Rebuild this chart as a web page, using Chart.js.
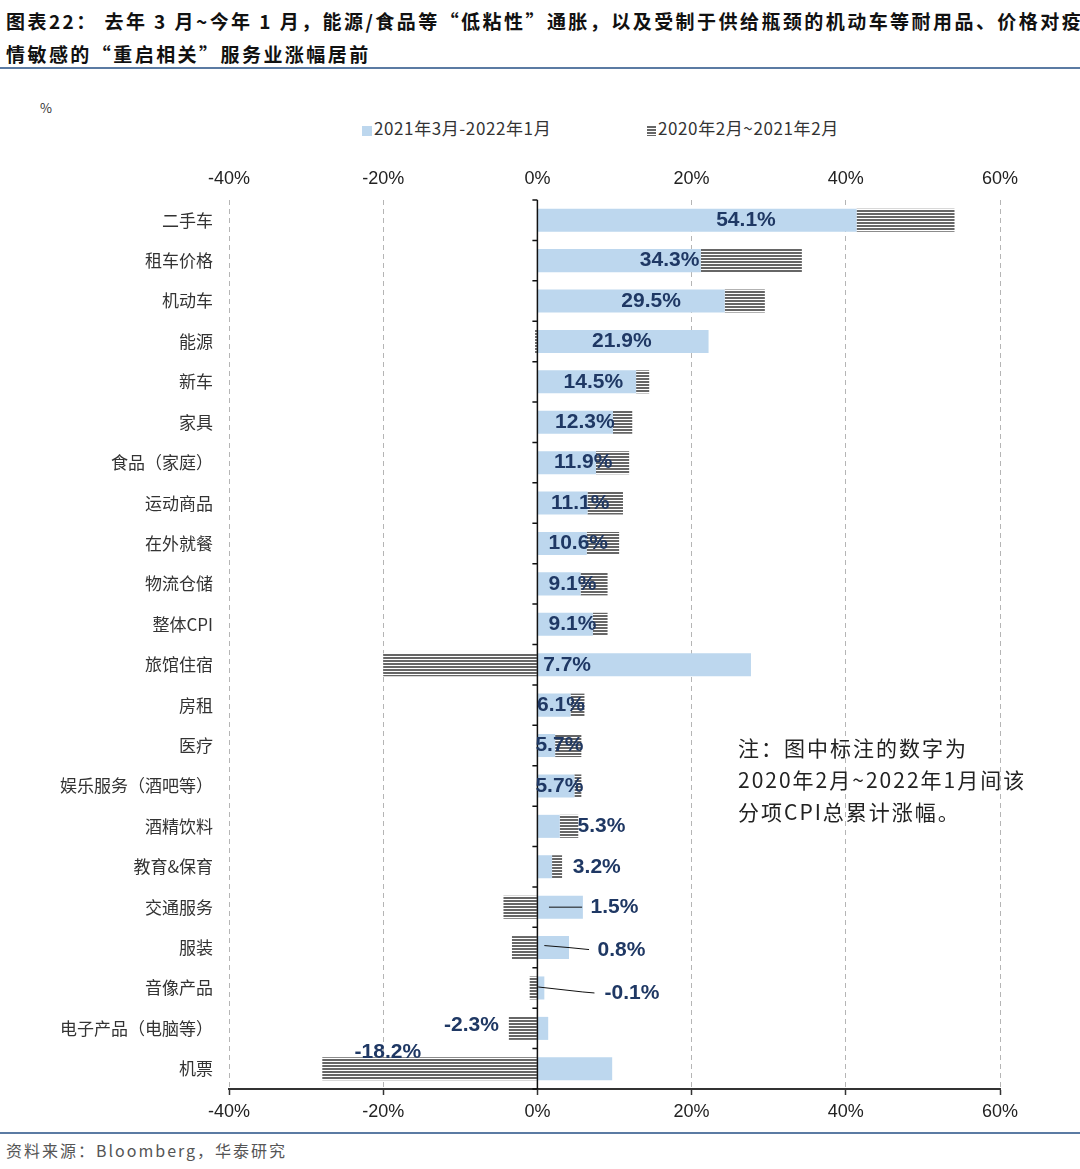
<!DOCTYPE html>
<html>
<head>
<meta charset="utf-8">
<script src="https://cdn.jsdelivr.net/npm/chart.js@4.4.1/dist/chart.umd.min.js"></script>
<style>
body{margin:0;width:1080px;height:1169px;position:relative;background:#fff;overflow:hidden;font-family:"Noto Sans CJK SC",sans-serif}
#title{position:absolute;left:6px;top:4px;font-size:19px;font-weight:700;line-height:33px;letter-spacing:2.45px;color:#111;white-space:nowrap}
.rule{position:absolute;left:0;width:1080px;height:2px;background:#5b7ba3}
#unit{position:absolute;left:40px;top:98px;font-size:13px;color:#333}
.lg{position:absolute;top:116px;font-size:17px;line-height:24px;letter-spacing:0.6px;color:#333;white-space:nowrap}
.lg i{display:inline-block;width:10px;height:10px;margin-right:2px;vertical-align:-1px}
#note{position:absolute;left:738px;top:731px;font-size:21px;line-height:32px;letter-spacing:2px;color:#222;white-space:nowrap}
#src{position:absolute;left:6px;top:1138px;font-size:16px;line-height:24px;letter-spacing:2px;color:#555}
#box{position:absolute;left:0;top:150px;width:1080px;height:975px}
</style>
</head>
<body>
<div id="title">图表22： 去年 3 月~今年 1 月，能源/食品等“低粘性”通胀，以及受制于供给瓶颈的机动车等耐用品、价格对疫<br>情敏感的“重启相关”服务业涨幅居前</div>
<div class="rule" style="top:67px"></div>
<div id="unit">%</div>
<div class="lg" style="left:362px"><i style="background:#bdd7ee"></i>2021年3月-2022年1月</div>
<div class="lg" style="left:647px"><i style="width:9px;background:repeating-linear-gradient(#666 0 2px,#fff 2px 3px)"></i>2020年2月~2021年2月</div>
<div id="box"><canvas id="cpiChart"></canvas></div>
<div id="note">注：图中标注的数字为<br>2020年2月~2022年1月间该<br>分项CPI总累计涨幅。</div>
<div class="rule" style="top:1132px"></div>
<div id="src">资料来源：Bloomberg，华泰研究</div>

<script>
// DATA

const categories = ['二手车','租车价格','机动车','能源','新车','家具','食品（家庭）','运动商品','在外就餐','物流仓储','整体CPI','旅馆住宿','房租','医疗','娱乐服务（酒吧等）','酒精饮料','教育&保育','交通服务','服装','音像产品','电子产品（电脑等）','机票'];
const recent = [41.4,21.2,24.3,22.2,12.8,9.8,7.6,6.5,6.4,5.6,7.2,27.7,4.3,2.3,4.8,2.9,1.9,5.9,4.1,0.9,1.4,9.7];
const earlier = [12.7,13.1,5.2,-0.3,1.7,2.5,4.3,4.6,4.2,3.5,1.9,-20.0,1.8,3.4,0.9,2.4,1.3,-4.4,-3.3,-1.0,-3.7,-27.9];
const totals = [54.1,34.3,29.5,21.9,14.5,12.3,11.9,11.1,10.6,9.1,9.1,7.7,6.1,5.7,5.7,5.3,3.2,1.5,0.8,-0.1,-2.3,-18.2];
const xTicks = [-40,-20,0,20,40,60];

// label placement for the crowded rows (x in % units, dy in px)
const labelSpots = {
    '酒精饮料': {x: 5.2, align: 'left'},
    '教育&保育': {x: 4.6, align: 'left'},
    '交通服务': {x: 6.9, align: 'left', leader: [[1.5,0],[5.8,0]]},
    '服装': {x: 7.8, align: 'left', dy: 3, leader: [[0.9,-2],[4.1,0],[6.7,2]]},
    '音像产品': {x: 8.7, align: 'left', dy: 5, leader: [[0.1,-1],[5.9,4],[7.4,5]]},
    '电子产品（电脑等）': {x: -5.0, align: 'right', dy: -3},
    '机票': {x: -19.4, align: 'center', dy: -17}
};

// horizontal stripe fill
function stripes() {
    const c = document.createElement('canvas');
    c.width = 4; c.height = 3;
    const g = c.getContext('2d');
    g.fillStyle = '#fff'; g.fillRect(0, 0, 4, 3);
    g.fillStyle = '#666'; g.fillRect(0, 0, 4, 2);
    return g.createPattern(c, 'repeat');
}

// zero axis with category tick marks
const zeroAxis = {
    id: 'zeroAxis',
    afterDatasetsDraw(chart) {
        const {ctx, chartArea: a, scales: {x}} = chart;
        const x0 = x.getPixelForValue(0);
        const step = (a.bottom - a.top) / categories.length;
        ctx.save();
        ctx.strokeStyle = '#111';
        ctx.lineWidth = 1.5;
        ctx.beginPath();
        ctx.moveTo(x0, a.top);
        ctx.lineTo(x0, a.bottom);
        for (let i = 0; i <= categories.length; i++) {
            const yy = a.top + i * step;
            ctx.moveTo(x0 - 5, yy);
            ctx.lineTo(x0, yy);
        }
        ctx.stroke();
        ctx.restore();
    }
};

// total labels
const totalLabels = {
    id: 'totalLabels',
    afterDatasetsDraw(chart) {
        const {ctx, scales: {x, y}} = chart;
        ctx.save();
        ctx.font = 'bold 21px "Liberation Sans", Arial, sans-serif';
        ctx.fillStyle = '#1f3864';
        ctx.textBaseline = 'middle';
        categories.forEach((name, i) => {
            const spot = labelSpots[name] || {x: totals[i] / 2, align: 'center'};
            const yc = y.getPixelForValue(i);
            if (spot.leader) {
                ctx.strokeStyle = '#111';
                ctx.lineWidth = 1;
                ctx.beginPath();
                spot.leader.forEach(([lx, ly], k) => {
                    const px = x.getPixelForValue(lx);
                    k ? ctx.lineTo(px, yc + ly) : ctx.moveTo(px, yc + ly);
                });
                ctx.stroke();
            }
            ctx.textAlign = spot.align;
            ctx.fillText(totals[i].toFixed(1) + '%', x.getPixelForValue(spot.x), yc + (spot.dy || 0));
        });
        ctx.restore();
    }
};

const tickFont = {family: '"Liberation Sans", Arial, sans-serif', size: 18};

new Chart(document.getElementById('cpiChart'), {
    type: 'bar',
    data: {
        labels: categories,
        datasets: [{
            label: '2021年3月-2022年1月',
            data: recent,
            backgroundColor: '#bdd7ee',
            categoryPercentage: 1,
            barPercentage: 0.57
        }, {
            label: '2020年2月~2021年2月',
            data: earlier,
            backgroundColor: stripes(),
            categoryPercentage: 1,
            barPercentage: 0.57
        }]
    },
    options: {
        indexAxis: 'y',
        responsive: true,
        maintainAspectRatio: false,
        animation: false,
        layout: {padding: {left: 0, right: 80, top: 0, bottom: 0}},
        plugins: {legend: {display: false}, tooltip: {enabled: false}},
        scales: {
            x: {
                type: 'linear', position: 'bottom', stacked: true, min: -40, max: 60,
                afterBuildTicks: s => { s.ticks = xTicks.map(v => ({value: v})); },
                grid: {color: '#b5b5b5', lineWidth: 1, tickLength: 6, tickColor: '#333', tickWidth: 1.5},
                border: {display: true, color: '#333', width: 2, dash: [5, 4]},
                ticks: {padding: 6, font: tickFont, color: '#222', callback: v => v + '%'},
                afterFit: s => { s.height = 36; }
            },
            x2: {
                type: 'linear', position: 'top', min: -40, max: 60,
                afterBuildTicks: s => { s.ticks = xTicks.map(v => ({value: v})); },
                grid: {display: false, drawTicks: false},
                border: {display: false},
                ticks: {padding: 10, font: tickFont, color: '#222', callback: v => v + '%'},
                afterFit: s => { s.height = 50; }
            },
            y: {
                stacked: true,
                grid: {display: false, drawTicks: false},
                border: {display: false},
                ticks: {padding: 16, font: {family: '"Noto Sans CJK SC", sans-serif', size: 17}, color: '#333'},
                afterFit: s => { s.width = 229; }
            }
        }
    },
    plugins: [zeroAxis, totalLabels]
});
</script>
</body>
</html>
